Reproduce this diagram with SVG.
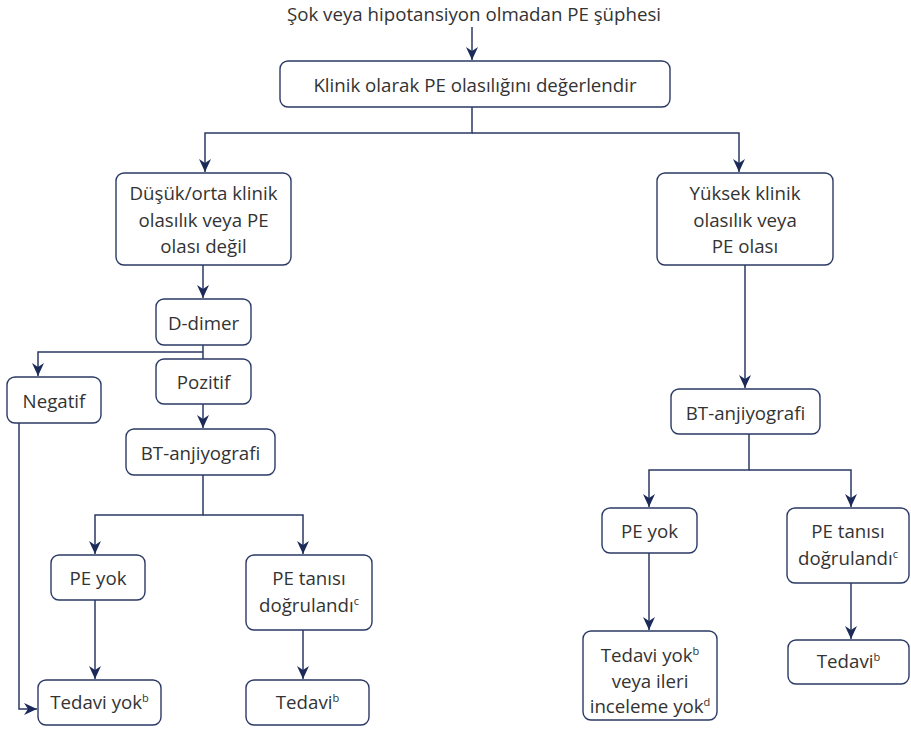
<svg xmlns="http://www.w3.org/2000/svg" width="911" height="733" viewBox="0 0 911 733">
  <style>
    .box { fill: #ffffff; stroke: #2b3a66; stroke-width: 1.4; }
    .lbl { font-family: "Open Sans", "Noto Sans", "DejaVu Sans", sans-serif; font-size: 18.7px; fill: #333333; text-anchor: middle; }
    .sup { font-size: 11px; }
    .wire { fill: none; stroke: #2b3a66; stroke-width: 1.5; }
  </style>
  <defs>
    <marker id="arr" markerUnits="userSpaceOnUse" markerWidth="14" markerHeight="12" viewBox="0 0 14 12" refX="13" refY="6" orient="auto">
      <path d="M0,0 L13,6 L0,12 L4,6 z" fill="#1b2a58"/>
    </marker>
  </defs>

  <text class="lbl" x="474" y="21">Şok veya hipotansiyon olmadan PE şüphesi</text>

  <g id="connectors">
    <path class="wire" d="M472,27 V60" marker-end="url(#arr)"/>
    <path class="wire" d="M472,107 V133 H205 V172" marker-end="url(#arr)"/>
    <path class="wire" d="M472,133 H739 V172" marker-end="url(#arr)"/>
    <path class="wire" d="M203,265 V298" marker-end="url(#arr)"/>
    <path class="wire" d="M203,345 V359"/>
    <path class="wire" d="M203,352 H38 V376" marker-end="url(#arr)"/>
    <path class="wire" d="M203,404 V428" marker-end="url(#arr)"/>
    <path class="wire" d="M203,475 V515 H95 V554" marker-end="url(#arr)"/>
    <path class="wire" d="M203,515 H303 V554" marker-end="url(#arr)"/>
    <path class="wire" d="M95,600 V679" marker-end="url(#arr)"/>
    <path class="wire" d="M303,630 V679" marker-end="url(#arr)"/>
    <path class="wire" d="M19,423 V709 H37" marker-end="url(#arr)"/>
    <path class="wire" d="M745,265 V388" marker-end="url(#arr)"/>
    <path class="wire" d="M749,434 V470 H649 V507" marker-end="url(#arr)"/>
    <path class="wire" d="M749,470 H851 V507" marker-end="url(#arr)"/>
    <path class="wire" d="M649,553 V630" marker-end="url(#arr)"/>
    <path class="wire" d="M851,583 V639" marker-end="url(#arr)"/>
  </g>

  <g id="assess">
    <rect class="box" x="280" y="61" width="390" height="46" rx="8"/>
    <text class="lbl" x="475" y="92">Klinik olarak PE olasılığını değerlendir</text>
  </g>

  <g id="low">
    <rect class="box" x="116" y="173" width="175" height="92" rx="8"/>
    <text class="lbl" x="203.5" y="199.5">Düşük/orta klinik</text>
    <text class="lbl" x="203.5" y="227">olasılık veya PE</text>
    <text class="lbl" x="203.5" y="253">olası değil</text>
  </g>

  <g id="high">
    <rect class="box" x="657" y="173" width="176" height="92" rx="8"/>
    <text class="lbl" x="745" y="199.5">Yüksek klinik</text>
    <text class="lbl" x="745" y="227">olasılık veya</text>
    <text class="lbl" x="745" y="253">PE olası</text>
  </g>

  <g id="ddimer">
    <rect class="box" x="156" y="299" width="95" height="46" rx="8"/>
    <text class="lbl" x="203.5" y="330">D-dimer</text>
  </g>

  <g id="negative">
    <rect class="box" x="7" y="377" width="94" height="46" rx="8"/>
    <text class="lbl" x="54" y="408">Negatif</text>
  </g>

  <g id="positive">
    <rect class="box" x="156" y="359" width="95" height="45" rx="8"/>
    <text class="lbl" x="203.5" y="388.5">Pozitif</text>
  </g>

  <g id="ct-left">
    <rect class="box" x="126" y="429" width="149" height="46" rx="8"/>
    <text class="lbl" x="200.5" y="460">BT-anjiyografi</text>
  </g>

  <g id="nope-left">
    <rect class="box" x="51" y="555" width="94" height="45" rx="8"/>
    <text class="lbl" x="98" y="585">PE yok</text>
  </g>

  <g id="confirmed-left">
    <rect class="box" x="246" y="555" width="126" height="75" rx="8"/>
    <text class="lbl" x="309" y="585">PE tanısı</text>
    <text class="lbl" x="309" y="611.5">doğrulandı<tspan class="sup" dy="-7">c</tspan></text>
  </g>

  <g id="notreat-left">
    <rect class="box" x="38" y="680" width="123" height="45" rx="8"/>
    <text class="lbl" x="99.5" y="709">Tedavi yok<tspan class="sup" dy="-7">b</tspan></text>
  </g>

  <g id="treat-left">
    <rect class="box" x="246" y="680" width="123" height="45" rx="8"/>
    <text class="lbl" x="307.5" y="709">Tedavi<tspan class="sup" dy="-7">b</tspan></text>
  </g>

  <g id="ct-right">
    <rect class="box" x="671" y="389" width="149" height="45" rx="8"/>
    <text class="lbl" x="745.5" y="420">BT-anjiyografi</text>
  </g>

  <g id="nope-right">
    <rect class="box" x="602" y="508" width="95" height="45" rx="8"/>
    <text class="lbl" x="649.5" y="538">PE yok</text>
  </g>

  <g id="confirmed-right">
    <rect class="box" x="787" y="508" width="122" height="75" rx="8"/>
    <text class="lbl" x="848" y="538">PE tanısı</text>
    <text class="lbl" x="848" y="565">doğrulandı<tspan class="sup" dy="-7">c</tspan></text>
  </g>

  <g id="notreat-right">
    <rect class="box" x="583" y="631" width="134" height="89" rx="8"/>
    <text class="lbl" x="650" y="662">Tedavi yok<tspan class="sup" dy="-7">b</tspan></text>
    <text class="lbl" x="650" y="688">veya ileri</text>
    <text class="lbl" x="650" y="713">inceleme yok<tspan class="sup" dy="-7">d</tspan></text>
  </g>

  <g id="treat-right">
    <rect class="box" x="788" y="640" width="121" height="44" rx="8"/>
    <text class="lbl" x="848.5" y="668">Tedavi<tspan class="sup" dy="-7">b</tspan></text>
  </g>
</svg>
